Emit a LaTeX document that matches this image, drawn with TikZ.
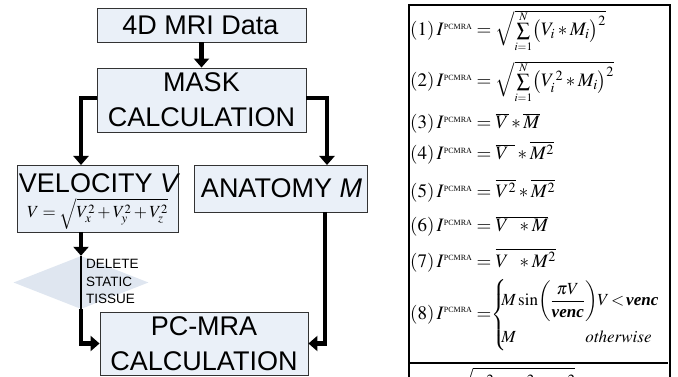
\documentclass[tikz,border=0pt]{standalone}
\usepackage{amsmath}
\usepackage{mathptmx}
\usepackage[no-math]{fontspec}
\setmainfont{Liberation Serif}
\newfontfamily\arialf{Liberation Sans}
\usetikzlibrary{arrows.meta,shapes.geometric}
\definecolor{boxfill}{HTML}{EAF0F8}
\definecolor{diafill}{HTML}{DFE6F0}
\definecolor{boxline}{HTML}{333333}
\newcommand\Ipc{I^{\mbox{\fontsize{8}{8}\selectfont PCMRA}}}
\newcommand\vencb{\mbox{\bfseries\itshape venc}}
\newcommand\smsum{\vphantom{\big(}\smash{\mathop{\textstyle\sum}\limits_{\scriptscriptstyle i=1}^{\mbox{\raisebox{-4pt}{$\scriptscriptstyle N$}}}}}
\begin{document}
\begin{tikzpicture}[x=1pt,y=-1pt,
  box/.style={draw=boxline,line width=0.9pt,fill=boxfill,inner sep=0pt},
  big/.style={font=\arialf\fontsize{27}{30}\selectfont,inner sep=0pt,anchor=base},
  small/.style={font=\arialf\fontsize{13.5}{15}\selectfont,inner sep=0pt,anchor=base west},
  eqn/.style={font=\fontsize{19}{23}\selectfont,inner sep=0pt,anchor=base west},
  conn/.style={line width=4.5pt,-{Triangle[length=9pt,width=15pt]}},
  ]
\useasboundingbox (0,0) rectangle (678,377);
% boxes
\node[box,minimum width=209pt,minimum height=34pt] (mri) at (201.5,25) {};
\node[box,minimum width=209pt,minimum height=64pt] (mask) at (201.5,100) {};
\node[box,minimum width=161pt,minimum height=67pt] (vel) at (97.5,198.5) {};
\node[box,minimum width=173pt,minimum height=47pt] (anat) at (280.5,188.5) {};
\node[box,minimum width=208pt,minimum height=63pt] (pc) at (204,343.5) {};
\node[diamond,fill=diafill,inner sep=0pt,minimum width=135pt,minimum height=53pt] (del) at (81,282.5) {};
% coordinates
\coordinate (vt) at (81,165);
\coordinate (vb) at (81,232);
\coordinate (at) at (327,165);
\coordinate (ab) at (325,212);
% connectors
\draw[conn] (mri.south) -- (mask.north);
\draw[conn] ([yshift=2pt]mask.west) -| (vt);
\draw[conn] ([yshift=2pt]mask.east) -| (at);
\draw[conn] (vb) -- (del.north);
\draw[line width=1.8pt] (del.north) -- (del.south);
\draw[conn] (del.south) |- (pc.west);
\draw[conn] (ab) |- (pc.east);
% texts
\node[big] (t1) at (200.5,35) {4D MRI Data};
\node[big] (t2) at (201.5,92) {MASK};
\node[big] (t3) at (201.5,127) {CALCULATION};
\node[big] (t4) at (98.5,193) {VELOCITY {\itshape V}};
\node[inner sep=0pt,anchor=base,font=\fontsize{17}{20}\selectfont] (t5) at (97.5,218) {$V=\sqrt{V_x^2+V_y^2+V_z^2}$};
\node[big] (t6) at (281.5,197) {ANATOMY {\itshape M}};
\node[big] (t7) at (204,335) {PC-MRA};
\node[big] (t8) at (204,370) {CALCULATION};
\node[small] (d1) at (86,269) {DELETE};
\node[small] (d2) at (86,286) {STATIC};
\node[small] (d3) at (86,303) {TISSUE};
% right panel
\node[draw=black,line width=1.8pt,minimum width=261pt,minimum height=420pt,anchor=north west,inner sep=0pt] (panel) at (408,4) {};
\draw[line width=1.2pt] (410,363) -- (668,363);
\node[eqn] (e1) at (410,36) {$(1)\,\Ipc=\sqrt{\smsum\bigl(V_i\ast M_i\bigr)^2}$};
\node[eqn] (e2) at (410,87) {$(2)\,\Ipc=\sqrt{\smsum\bigl(V_i^{\,2}\ast M_i\bigr)^2}$};
\node[eqn] (e3) at (410,129) {$(3)\,\Ipc=\overline{V}\ast\overline{M}$};
\node[eqn] (e4) at (410,160) {$(4)\,\Ipc=\overline{V\;\,}\ast\overline{M^2}$};
\node[eqn] (e5) at (410,198) {$(5)\,\Ipc=\overline{V^2}\ast\overline{M^2}$};
\node[eqn] (e6) at (410,232) {$(6)\,\Ipc=\overline{V\;\;\ast M}$};
\node[eqn] (e7) at (410,267) {$(7)\,\Ipc=\overline{V\;\;\ast M^2}$};
\node[eqn] (e8) at (410,319) {$(8)\,\Ipc=$\fontsize{17}{20}\selectfont$\left\{\hspace{-5pt}\begin{array}{@{}l@{}}M\sin\!\left(\dfrac{\pi V}{\vencb}\right)\!V\,{<}\,\vencb\\[17pt] \makebox[84pt][l]{$M$}\mathit{otherwise}\end{array}\right.$};
\node[eqn] (e9) at (418,390) {$V=\sqrt{V_x^2+V_y^2+V_z^2}$};
\end{tikzpicture}
\end{document}
